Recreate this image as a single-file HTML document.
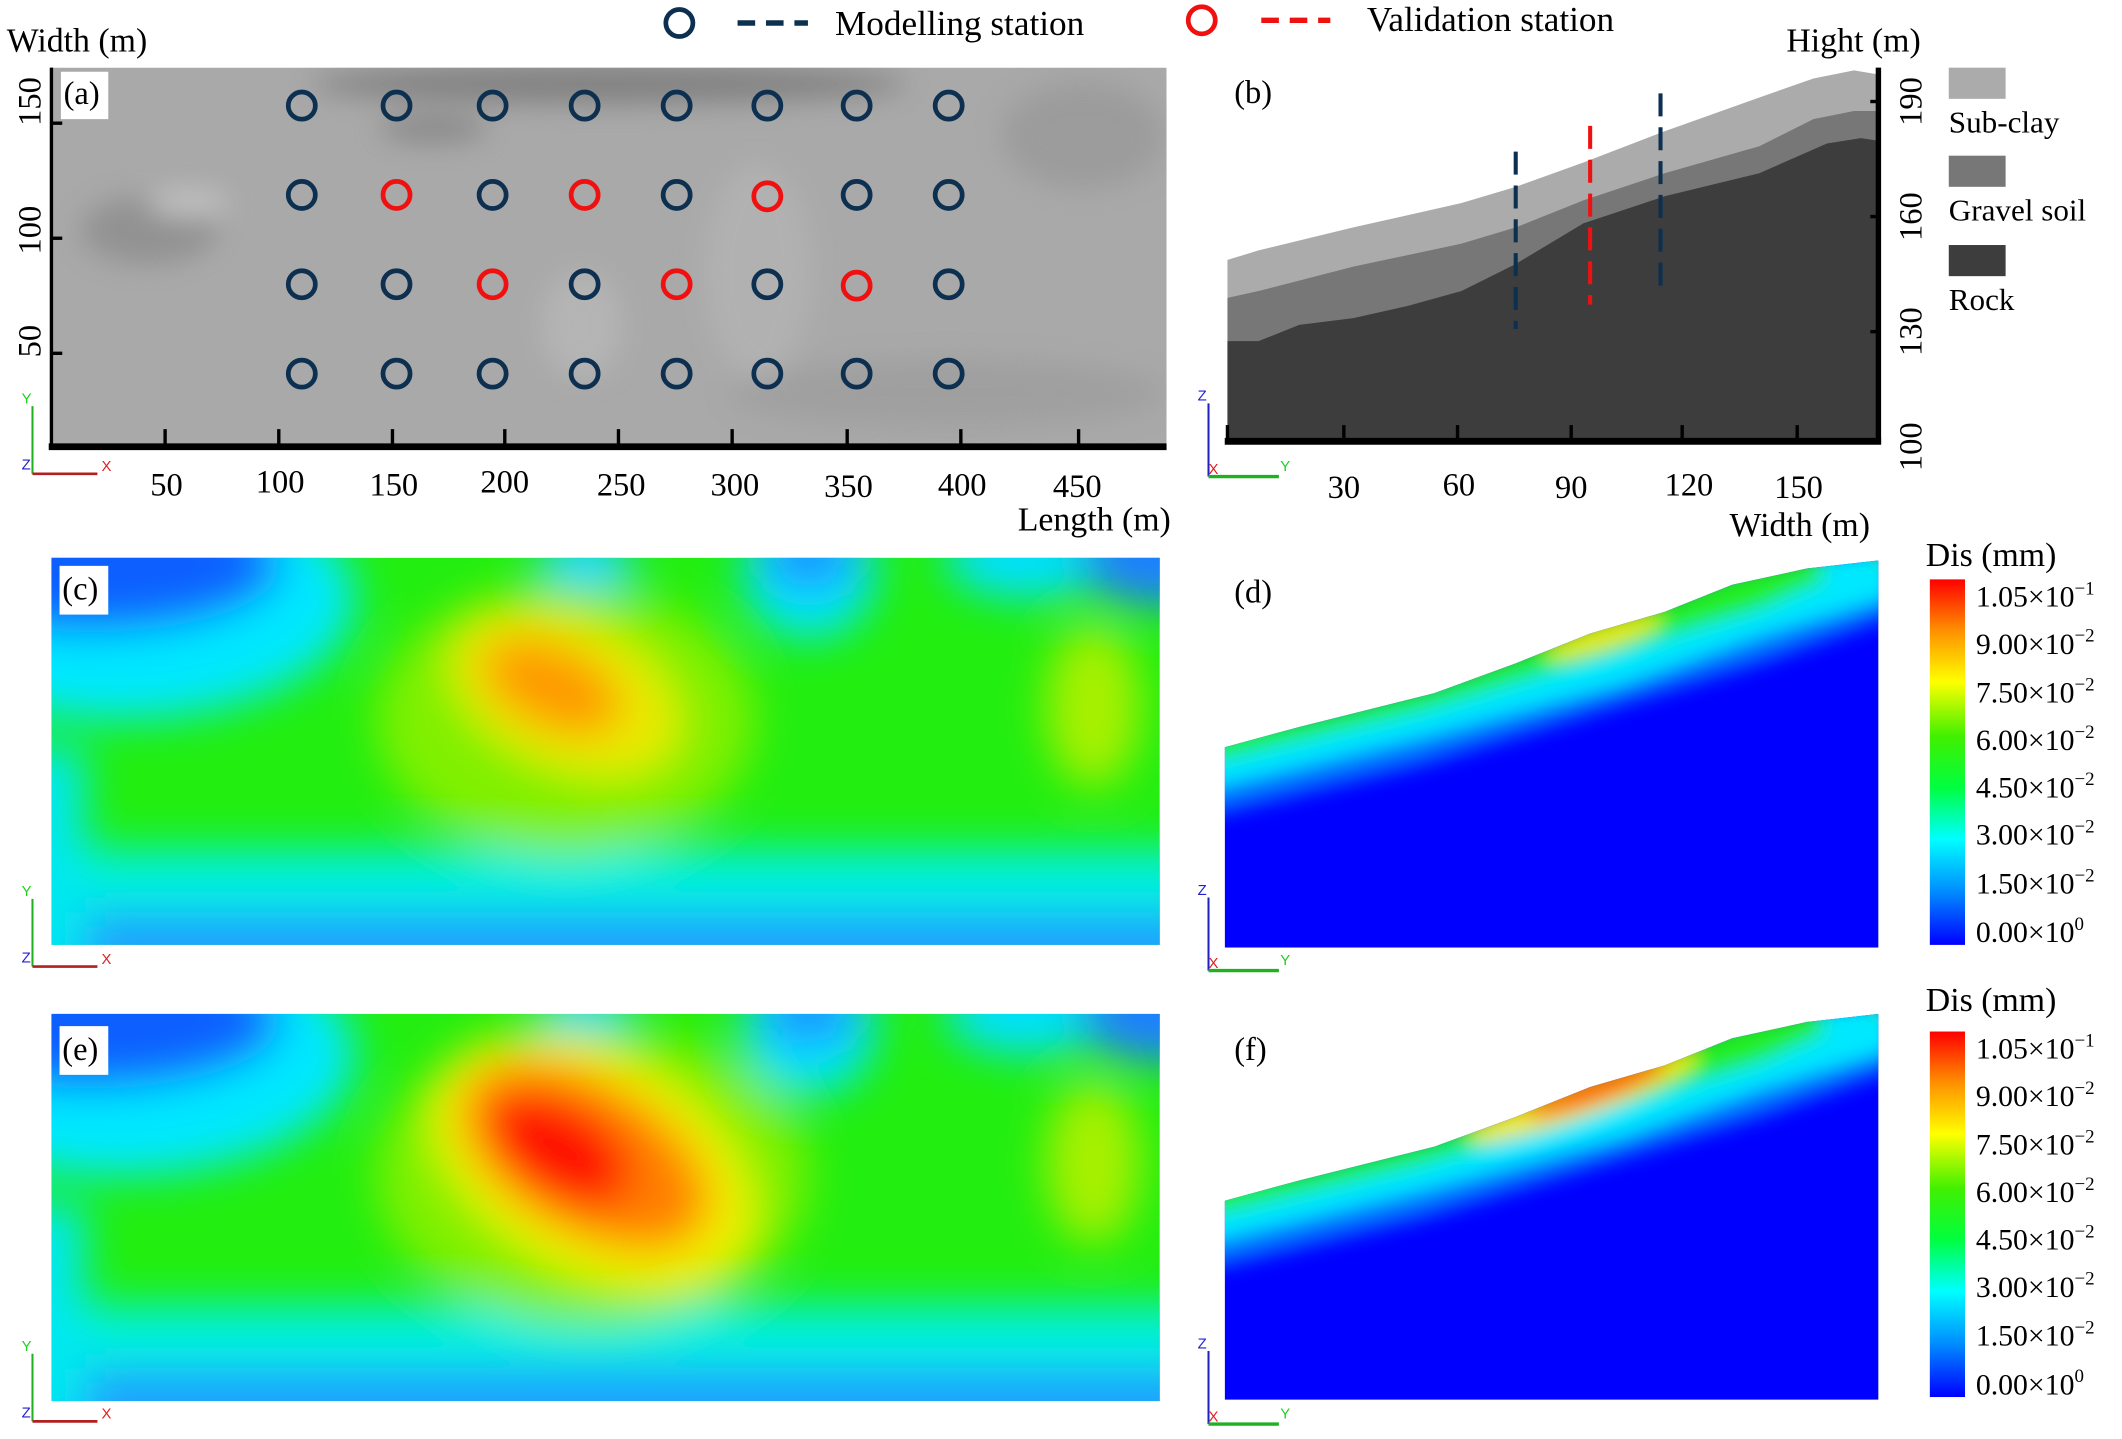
<!DOCTYPE html>
<html><head><meta charset="utf-8"><style>html,body{margin:0;padding:0;background:#fff}svg{display:block}</style></head>
<body>
<svg width="2122" height="1439" viewBox="0 0 1568 1063" preserveAspectRatio="none" xmlns="http://www.w3.org/2000/svg" font-family="'Liberation Serif',serif">
<defs>
<filter id="b18" filterUnits="userSpaceOnUse" x="-1000" y="-1000" width="4000" height="4000"><feGaussianBlur stdDeviation="16"/></filter>
<filter id="b10" filterUnits="userSpaceOnUse" x="-1000" y="-1000" width="4000" height="4000"><feGaussianBlur stdDeviation="10"/></filter>
<filter id="b8" filterUnits="userSpaceOnUse" x="-1000" y="-1000" width="4000" height="4000"><feGaussianBlur stdDeviation="7"/></filter>
<clipPath id="cr"><rect x="0" y="0" width="819" height="286"/></clipPath>
<clipPath id="ca"><rect x="38" y="50" width="824" height="282"/></clipPath>
<clipPath id="cd"><polygon points="905,552 960,537 1060,512 1120,490 1175,468 1230,452 1280,432 1335,420 1388,414 1388,700 905,700"/></clipPath>
<clipPath id="cf"><polygon points="905,887 960,872 1060,847 1120,825 1175,803 1230,787 1280,767 1335,755 1388,749 1388,1034 905,1034"/></clipPath>
<linearGradient id="cb" x1="0" y1="0" x2="0" y2="1">
<stop offset="0" stop-color="#ff0000"/><stop offset=".14" stop-color="#ff9000"/><stop offset=".28" stop-color="#ffff00"/><stop offset=".43" stop-color="#40f000"/><stop offset=".57" stop-color="#00ff40"/><stop offset=".71" stop-color="#00ffff"/><stop offset=".85" stop-color="#0090ff"/><stop offset="1" stop-color="#0000ff"/>
</linearGradient>
</defs>

<g font-size="26">
<circle cx="502" cy="17" r="10" fill="none" stroke="#0d3050" stroke-width="3.5"/>
<line x1="545" y1="17" x2="597" y2="17" stroke="#0d3050" stroke-width="4" stroke-dasharray="13,8"/>
<text x="617" y="26">Modelling station</text>
<circle cx="888" cy="15" r="10" fill="none" stroke="#f01010" stroke-width="3.5"/>
<line x1="932" y1="15" x2="983" y2="15" stroke="#f01010" stroke-width="4" stroke-dasharray="13,8"/>
<text x="1010" y="23">Validation station</text>
</g>

<text x="5" y="38" font-size="25">Width (m)</text>
<g clip-path="url(#ca)">
<rect x="38" y="50" width="824" height="282" fill="#a9a9a9"/>
<g filter="url(#b10)" opacity=".8">
<ellipse cx="450" cy="62" rx="220" ry="14" fill="#777"/>
<ellipse cx="320" cy="95" rx="40" ry="10" fill="#808080"/>
<ellipse cx="110" cy="170" rx="50" ry="25" fill="#8c8c8c"/>
<ellipse cx="140" cy="150" rx="30" ry="10" fill="#c8c8c8"/>
<ellipse cx="800" cy="100" rx="60" ry="40" fill="#999"/>
<ellipse cx="700" cy="290" rx="160" ry="25" fill="#9d9d9d"/>
<ellipse cx="560" cy="200" rx="40" ry="80" fill="#b4b4b4"/>
<ellipse cx="430" cy="240" rx="30" ry="40" fill="#b8b8b8"/>
</g>
</g>
<rect x="45" y="53" width="35" height="35" fill="#fff"/>
<text x="47" y="77" font-size="24">(a)</text>
<line x1="38" y1="50" x2="38" y2="332" stroke="#000" stroke-width="2.5"/>
<line x1="36" y1="330" x2="862" y2="330" stroke="#000" stroke-width="5"/>
<g stroke="#000" stroke-width="2.5">
<line x1="122" y1="317" x2="122" y2="330"/><line x1="206" y1="317" x2="206" y2="330"/><line x1="290" y1="317" x2="290" y2="330"/><line x1="373" y1="317" x2="373" y2="330"/><line x1="457" y1="317" x2="457" y2="330"/><line x1="541" y1="317" x2="541" y2="330"/><line x1="626" y1="317" x2="626" y2="330"/><line x1="710" y1="317" x2="710" y2="330"/><line x1="797" y1="317" x2="797" y2="330"/>
<line x1="38" y1="91" x2="46" y2="91"/><line x1="38" y1="176" x2="46" y2="176"/><line x1="38" y1="261" x2="46" y2="261"/>
</g>
<g font-size="24" text-anchor="middle">
<text x="123" y="366">50</text><text x="207" y="364">100</text><text x="291" y="366">150</text><text x="373" y="364">200</text><text x="459" y="366">250</text><text x="543" y="366">300</text><text x="627" y="367">350</text><text x="711" y="366">400</text><text x="796" y="367">450</text>
<text transform="translate(30,75) rotate(-90)">150</text>
<text transform="translate(30,170) rotate(-90)">100</text>
<text transform="translate(30,252) rotate(-90)">50</text>
</g>
<text x="752" y="392" font-size="25">Length (m)</text>
<g fill="none" stroke-width="3.5">
<g stroke="#0d3050">
<circle cx="223" cy="78" r="10"/><circle cx="293" cy="78" r="10"/><circle cx="364" cy="78" r="10"/><circle cx="432" cy="78" r="10"/><circle cx="500" cy="78" r="10"/><circle cx="567" cy="78" r="10"/><circle cx="633" cy="78" r="10"/><circle cx="701" cy="78" r="10"/>
<circle cx="223" cy="144" r="10"/><circle cx="364" cy="144" r="10"/><circle cx="500" cy="144" r="10"/><circle cx="633" cy="144" r="10"/><circle cx="701" cy="144" r="10"/>
<circle cx="223" cy="210" r="10"/><circle cx="293" cy="210" r="10"/><circle cx="432" cy="210" r="10"/><circle cx="567" cy="210" r="10"/><circle cx="701" cy="210" r="10"/>
<circle cx="223" cy="276" r="10"/><circle cx="293" cy="276" r="10"/><circle cx="364" cy="276" r="10"/><circle cx="432" cy="276" r="10"/><circle cx="500" cy="276" r="10"/><circle cx="567" cy="276" r="10"/><circle cx="633" cy="276" r="10"/><circle cx="701" cy="276" r="10"/>
</g>
<g stroke="#f01010">
<circle cx="293" cy="144" r="10"/><circle cx="432" cy="144" r="10"/><circle cx="567" cy="145" r="10"/>
<circle cx="364" cy="210" r="10"/><circle cx="500" cy="210" r="10"/><circle cx="633" cy="211" r="10"/>
</g>
</g>

<text x="1320" y="38" font-size="25">Hight (m)</text>
<polygon points="907,192 930,185 1000,168 1080,150 1120,138 1170,120 1230,97 1300,72 1340,58 1370,52 1388,55 1388,326 907,326" fill="#ababab"/>
<polygon points="907,220 930,215 1000,197 1080,180 1120,168 1170,148 1230,128 1300,108 1340,88 1370,82 1388,82 1388,326 907,326" fill="#777"/>
<polygon points="907,252 930,252 960,240 1000,235 1040,226 1080,215 1120,195 1170,165 1230,145 1300,128 1350,106 1375,102 1388,104 1388,326 907,326" fill="#3d3d3d"/>
<line x1="1120" y1="112" x2="1120" y2="243" stroke="#0d3050" stroke-width="3" stroke-dasharray="17,8"/>
<line x1="1175" y1="93" x2="1175" y2="225" stroke="#f01010" stroke-width="3" stroke-dasharray="17,8"/>
<line x1="1227" y1="69" x2="1227" y2="212" stroke="#0d3050" stroke-width="3" stroke-dasharray="17,8"/>
<text x="912" y="76" font-size="24">(b)</text>
<line x1="905" y1="326" x2="1390" y2="326" stroke="#000" stroke-width="5"/>
<line x1="1388" y1="50" x2="1388" y2="328" stroke="#000" stroke-width="4"/>
<g stroke="#000" stroke-width="2.5">
<line x1="993" y1="314" x2="993" y2="326"/><line x1="1077" y1="314" x2="1077" y2="326"/><line x1="1161" y1="314" x2="1161" y2="326"/><line x1="1243" y1="314" x2="1243" y2="326"/><line x1="1328" y1="314" x2="1328" y2="326"/>
<line x1="907" y1="314" x2="907" y2="326"/>
<line x1="1382" y1="75" x2="1388" y2="75"/><line x1="1382" y1="160" x2="1388" y2="160"/><line x1="1382" y1="245" x2="1388" y2="245"/>
</g>
<g font-size="24" text-anchor="middle">
<text x="993" y="368">30</text><text x="1078" y="366">60</text><text x="1161" y="368">90</text><text x="1248" y="366">120</text><text x="1329" y="368">150</text>
<text transform="translate(1420,75) rotate(-90)">190</text>
<text transform="translate(1420,160) rotate(-90)">160</text>
<text transform="translate(1420,245) rotate(-90)">130</text>
<text transform="translate(1420,330) rotate(-90)">100</text>
</g>
<text x="1278" y="396" font-size="25">Width (m)</text>
<rect x="1440" y="50" width="42" height="23" fill="#ababab"/>
<text x="1440" y="98" font-size="23">Sub-clay</text>
<rect x="1440" y="115" width="42" height="23" fill="#777"/>
<text x="1440" y="163" font-size="23">Gravel soil</text>
<rect x="1440" y="181" width="42" height="23" fill="#3d3d3d"/>
<text x="1440" y="229" font-size="23">Rock</text>

<g transform="translate(38,412)">
<g clip-path="url(#cr)">
<rect x="0" y="0" width="819" height="286" fill="#22ee10"/>
<g filter="url(#b18)">
<rect x="-30" y="215" width="880" height="100" fill="#00f0e0"/>
<rect x="-30" y="262" width="880" height="60" fill="#1aa0ff"/>
<rect x="-40" y="140" width="65" height="170" fill="#00e8f0"/>
<ellipse cx="50" cy="30" rx="175" ry="90" fill="#00e8ff"/>
<ellipse cx="30" cy="5" rx="140" ry="50" fill="#1060ff"/>
<ellipse cx="395" cy="5" rx="35" ry="25" fill="#00d8ff"/>
<ellipse cx="560" cy="10" rx="50" ry="50" fill="#00e4ff"/>
<ellipse cx="560" cy="0" rx="35" ry="22" fill="#1a90ff"/>
<ellipse cx="720" cy="0" rx="60" ry="30" fill="#00e0ff"/>
<ellipse cx="819" cy="0" rx="60" ry="35" fill="#1a80ff"/>
<ellipse cx="770" cy="110" rx="35" ry="60" fill="#a8f000"/>
<ellipse cx="380" cy="120" rx="140" ry="100" fill="#80f000"/>
<ellipse cx="380" cy="100" rx="90" ry="55" fill="#eaea00" transform="rotate(25 380 100)"/>
<ellipse cx="370" cy="95" rx="55" ry="30" fill="#ff9800" transform="rotate(25 370 95)"/>
</g>
</g>
<rect x="6" y="6" width="36" height="36" fill="#fff"/>
<text x="8" y="31" font-size="24">(c)</text>
</g>

<g transform="translate(38,749)">
<g clip-path="url(#cr)">
<rect x="0" y="0" width="819" height="286" fill="#22ee10"/>
<g filter="url(#b18)">
<rect x="-30" y="215" width="880" height="100" fill="#00f0e0"/>
<rect x="-30" y="262" width="880" height="60" fill="#1aa0ff"/>
<rect x="-40" y="140" width="65" height="170" fill="#00e8f0"/>
<ellipse cx="50" cy="30" rx="175" ry="90" fill="#00e8ff"/>
<ellipse cx="30" cy="5" rx="140" ry="50" fill="#1060ff"/>
<ellipse cx="395" cy="5" rx="35" ry="25" fill="#00d8ff"/>
<ellipse cx="560" cy="10" rx="50" ry="50" fill="#00e4ff"/>
<ellipse cx="560" cy="0" rx="35" ry="22" fill="#1a90ff"/>
<ellipse cx="720" cy="0" rx="60" ry="30" fill="#00e0ff"/>
<ellipse cx="819" cy="0" rx="60" ry="35" fill="#1a80ff"/>
<ellipse cx="770" cy="110" rx="35" ry="60" fill="#a8f000"/>
<ellipse cx="400" cy="120" rx="160" ry="110" fill="#80f000"/>
<ellipse cx="400" cy="110" rx="130" ry="80" fill="#f2f000" transform="rotate(30 400 110)"/>
<ellipse cx="395" cy="105" rx="100" ry="55" fill="#ff8000" transform="rotate(30 395 105)"/>
<ellipse cx="375" cy="100" rx="60" ry="35" fill="#ff1000" transform="rotate(30 375 100)"/>
</g>
</g>
<rect x="6" y="9" width="36" height="36" fill="#fff"/>
<text x="8" y="34" font-size="24">(e)</text>
</g>

<g clip-path="url(#cd)">
<rect x="900" y="400" width="500" height="310" fill="#0000ff"/>
<g filter="url(#b8)">
<polygon points="880,540 960,527 1060,502 1120,480 1175,458 1230,442 1280,422 1335,410 1400,404 1400,455 1300,490 1200,520 1050,565 905,600 880,605" fill="#0070ff"/>
<polygon points="880,540 960,527 1060,502 1120,480 1175,458 1230,442 1280,422 1335,410 1400,404 1400,440 1300,470 1200,505 1050,545 905,580 880,585" fill="#00e8ff"/>
<polygon points="880,540 960,527 1060,502 1120,480 1175,458 1230,442 1280,422 1335,410 1400,404 1400,422 1340,432 1300,450 1200,480 1050,525 905,560 880,565" fill="#20ee20"/>
<ellipse cx="1185" cy="470" rx="45" ry="9" fill="#e8e800" transform="rotate(-18 1185 470)"/>
<ellipse cx="1370" cy="422" rx="25" ry="14" fill="#00e8ff"/>
</g>
</g>
<text x="912" y="445" font-size="24">(d)</text>

<g clip-path="url(#cf)">
<rect x="900" y="740" width="500" height="310" fill="#0000ff"/>
<g filter="url(#b8)">
<polygon points="880,875 960,862 1060,837 1120,815 1175,793 1230,777 1280,757 1335,745 1400,739 1400,790 1300,825 1200,855 1050,900 905,935 880,940" fill="#0070ff"/>
<polygon points="880,875 960,862 1060,837 1120,815 1175,793 1230,777 1280,757 1335,745 1400,739 1400,775 1300,805 1200,840 1050,880 905,915 880,920" fill="#00e8ff"/>
<polygon points="880,875 960,862 1060,837 1120,815 1175,793 1230,777 1280,757 1335,745 1400,739 1400,757 1340,767 1300,785 1200,815 1050,860 905,895 880,900" fill="#20ee20"/>
<ellipse cx="1170" cy="810" rx="90" ry="14" fill="#f0e800" transform="rotate(-20 1170 810)"/>
<ellipse cx="1180" cy="805" rx="55" ry="8" fill="#ff5000" transform="rotate(-20 1180 805)"/>
<ellipse cx="1370" cy="757" rx="25" ry="14" fill="#00e8ff"/>
</g>
</g>
<text x="912" y="783" font-size="24">(f)</text>

<g font-size="22">
<text x="1423" y="418" font-size="25">Dis (mm)</text>
<rect x="1426" y="428" width="26" height="270" fill="url(#cb)"/>
<text x="1460" y="448">1.05×10<tspan font-size="14" dy="-9">−1</tspan></text>
<text x="1460" y="483">9.00×10<tspan font-size="14" dy="-9">−2</tspan></text>
<text x="1460" y="519">7.50×10<tspan font-size="14" dy="-9">−2</tspan></text>
<text x="1460" y="554">6.00×10<tspan font-size="14" dy="-9">−2</tspan></text>
<text x="1460" y="589">4.50×10<tspan font-size="14" dy="-9">−2</tspan></text>
<text x="1460" y="624">3.00×10<tspan font-size="14" dy="-9">−2</tspan></text>
<text x="1460" y="660">1.50×10<tspan font-size="14" dy="-9">−2</tspan></text>
<text x="1460" y="696">0.00×10<tspan font-size="14" dy="-9">0</tspan></text>

<text x="1423" y="747" font-size="25">Dis (mm)</text>
<rect x="1426" y="762" width="26" height="270" fill="url(#cb)"/>
<text x="1460" y="782">1.05×10<tspan font-size="14" dy="-9">−1</tspan></text>
<text x="1460" y="817">9.00×10<tspan font-size="14" dy="-9">−2</tspan></text>
<text x="1460" y="853">7.50×10<tspan font-size="14" dy="-9">−2</tspan></text>
<text x="1460" y="888">6.00×10<tspan font-size="14" dy="-9">−2</tspan></text>
<text x="1460" y="923">4.50×10<tspan font-size="14" dy="-9">−2</tspan></text>
<text x="1460" y="958">3.00×10<tspan font-size="14" dy="-9">−2</tspan></text>
<text x="1460" y="994">1.50×10<tspan font-size="14" dy="-9">−2</tspan></text>
<text x="1460" y="1030">0.00×10<tspan font-size="14" dy="-9">0</tspan></text>
</g>

<g font-family="'Liberation Sans',sans-serif" font-size="11">
<g>
<line x1="24" y1="300" x2="24" y2="350" stroke="#20b020" stroke-width="1.5"/><line x1="24" y1="350" x2="72" y2="350" stroke="#b02020" stroke-width="2"/>
<text x="16" y="298" fill="#20d020">Y</text><text x="75" y="348" fill="#e02020">X</text><text x="16" y="347" fill="#2020d0">Z</text>
</g>
<g transform="translate(0,364)">
<line x1="24" y1="300" x2="24" y2="350" stroke="#20b020" stroke-width="1.5"/><line x1="24" y1="350" x2="72" y2="350" stroke="#b02020" stroke-width="2"/>
<text x="16" y="298" fill="#20d020">Y</text><text x="75" y="348" fill="#e02020">X</text><text x="16" y="347" fill="#2020d0">Z</text>
</g>
<g transform="translate(0,700)">
<line x1="24" y1="300" x2="24" y2="350" stroke="#20b020" stroke-width="1.5"/><line x1="24" y1="350" x2="72" y2="350" stroke="#b02020" stroke-width="2"/>
<text x="16" y="298" fill="#20d020">Y</text><text x="75" y="348" fill="#e02020">X</text><text x="16" y="347" fill="#2020d0">Z</text>
</g>
<g>
<line x1="893" y1="298" x2="893" y2="352" stroke="#2020c0" stroke-width="1.5"/><line x1="893" y1="352" x2="945" y2="352" stroke="#20b020" stroke-width="2.5"/>
<text x="885" y="296" fill="#2020d0">Z</text><text x="946" y="348" fill="#20d020">Y</text><text x="893" y="350" fill="#e02020">X</text>
</g>
<g transform="translate(0,365)">
<line x1="893" y1="298" x2="893" y2="352" stroke="#2020c0" stroke-width="1.5"/><line x1="893" y1="352" x2="945" y2="352" stroke="#20b020" stroke-width="2.5"/>
<text x="885" y="296" fill="#2020d0">Z</text><text x="946" y="348" fill="#20d020">Y</text><text x="893" y="350" fill="#e02020">X</text>
</g>
<g transform="translate(0,700)">
<line x1="893" y1="298" x2="893" y2="352" stroke="#2020c0" stroke-width="1.5"/><line x1="893" y1="352" x2="945" y2="352" stroke="#20b020" stroke-width="2.5"/>
<text x="885" y="296" fill="#2020d0">Z</text><text x="946" y="348" fill="#20d020">Y</text><text x="893" y="350" fill="#e02020">X</text>
</g>
</g>
</svg>
</body></html>
